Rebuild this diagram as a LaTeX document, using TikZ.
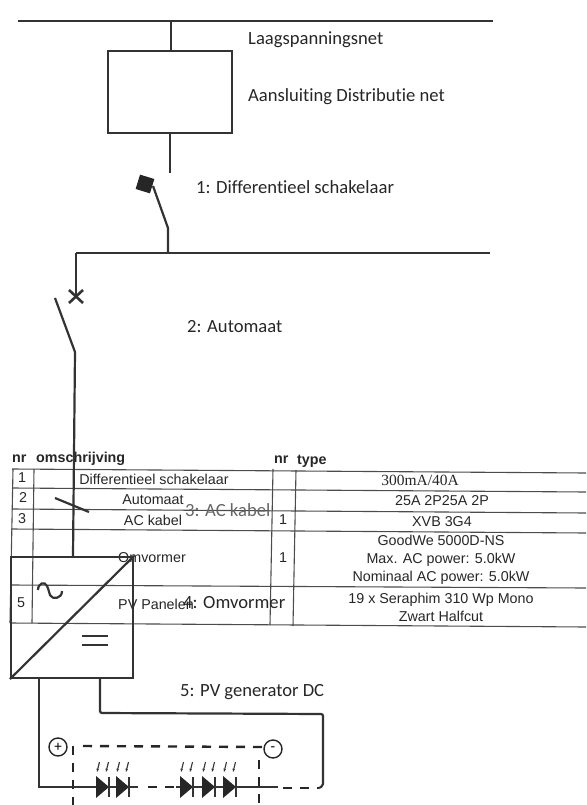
\documentclass[tikz,border=0pt]{standalone}
\usepackage{fontspec}
\usetikzlibrary{shapes.geometric,arrows.meta}
\setmainfont[Ligatures=NoCommon]{Carlito}
\newfontfamily\tabfont{Liberation Sans}
\newfontfamily\serfont{Liberation Serif}
\tikzset{
  wire/.style={draw=black!80,line width=2.2pt,line join=miter},
  grid line/.style={draw=black!70,line width=1.1pt},
  dash wire/.style={draw=black!85,line width=2.4pt,dash pattern=on 9pt off 8pt},
  lbl/.style={font=\fontsize{18.6}{22}\selectfont,text=black!85,anchor=west,inner sep=0pt},
  cell/.style={font=\tabfont\fontsize{14.3}{18.2}\selectfont,text=black!85,align=center,inner sep=0pt},
  head/.style={font=\tabfont\bfseries\fontsize{14.3}{18}\selectfont,text=black!85,anchor=west,inner sep=0pt},
}
\begin{document}
\begin{tikzpicture}[x=1pt,y=-1pt]
\useasboundingbox (0,0) rectangle (586,805);
% table grid
\draw[grid line] (12,469)--(586,473);
\draw[grid line] (12,488)--(586,492);
\draw[grid line] (12,509)--(586,513);
\draw[grid line] (11,529)--(586,533);
\draw[grid line] (11,585)--(586,588);
\draw[grid line] (10,623)--(586,627);
\draw[grid line] (13,469)--(10,623);
\draw[grid line] (34,469)--(32,623);
\draw[grid line] (273,469)--(270,625);
\draw[grid line] (296,470)--(293,626);
% table text
\node[head] (h1) at (12,459) {nr};
\node[head] (h2) at (36,459) {omschrijving};
\node[head] (h3) at (274,460) {nr};
\node[head] (h4) at (297,461) {type};
\node[cell] (a1) at (22,478) {1};
\node[cell] (a2) at (23,498) {2};
\node[cell] (a3) at (22,519) {3};
\node[cell] (a5) at (21,603) {5};
\node[cell] (b1) at (154,479) {Differentieel schakelaar};
\node[cell] (b2) at (153,500) {Automaat};
\node[cell] (b3) at (153,520) {AC kabel};
\node[cell] (b4) at (152,558) {Omvormer};
\node[cell] (b5) at (156,604) {PV Panelen};
\node[cell] (c3) at (283,520) {1};
\node[cell] (c4) at (283,558) {1};
\node[cell,font=\serfont\fontsize{15.5}{18}\selectfont] (d1) at (420,480) {300mA/40A};
\node[cell] (d2) at (442,501) {25A 2P25A 2P};
\node[cell] (d3) at (442,522) {XVB 3G4};
\node[cell] (d4) at (441,560) {GoodWe 5000D-NS\\Max. AC power: 5.0kW\\Nominaal AC power: 5.0kW};
\node[cell] (d5) at (441,607) {19 x Seraphim 310 Wp Mono\\Zwart Halfcut};
% labels
\node[lbl] (l0) at (248,40) {Laagspanningsnet};
\node[lbl] (l1) at (248,97) {Aansluiting Distributie net};
\node[lbl] (l2) at (196,187) {1: Differentieel schakelaar};
\node[lbl] (l3) at (187,327) {2: Automaat};
\node[lbl,text=black!60] (l4) at (185,510) {3: AC kabel};
\node[lbl] (l5) at (183,603) {4: Omvormer};
\node[lbl] (l6) at (180,692) {5: PV generator DC};
% upper network
\coordinate (t1) at (18,21); \coordinate (t2) at (493,21);
\coordinate (t3) at (171,21);
\node[draw=black!80,line width=2pt,minimum width=124pt,minimum height=82pt,inner sep=0pt] (conn) at (170,92) {};
\draw[wire] (t1)--(t2);
\draw[wire] (t3)--(t3 |- conn.north);
\coordinate (c1) at (170,173);
\draw[wire] (conn.south -| c1)--(c1);
\node[fill=black!85,minimum size=15pt,inner sep=0pt,rotate=-17] (sq) at (145,184) {};
\coordinate (k0) at (153,186);
\coordinate (k1) at (168,228);
\coordinate (bl) at (76,253); \coordinate (br) at (490,253); \coordinate (bj) at (168,253);
\draw[wire] (k0)--(k1)--(bj);
\draw[wire] (bl)--(br);
% breaker
\coordinate (x0) at (76,296);
\draw[wire] (bl)--(x0);
\draw[wire,line width=2.6pt] (69,290)--(83,303) (83,290)--(69,303);
\coordinate (s1) at (55,298); \coordinate (s2) at (75,352);
\coordinate (s3) at (73,556);
\draw[wire] (s1)--(s2)--(s3);
\draw[wire] (55,498)--(89,512);
% inverter
\node[draw=black!80,line width=2.2pt,minimum width=122pt,minimum height=121pt,inner sep=0pt] (inv) at (72,617.5) {};
\draw[wire] (inv.south west)--(inv.north east);
\draw[wire] (38,590) .. controls (38,583) and (45,581) .. (47,586) .. controls (49,590) and (49,593) .. (50,595) .. controls (52,600) and (62,599) .. (62,591);
\draw[wire,line width=2.6pt] (82,636)--(108,636) (82,645)--(108,645);
% DC wiring
\coordinate (dcp) at (39,787);
\coordinate (dcn) at (100,713);
\coordinate (dcne) at (323,714);
\coordinate (dcnb) at (323,786);
\draw[wire] (inv.south -| dcp)--(dcp)--(73,787);
\draw[wire,rounded corners=2pt] (inv.south -| dcn)--(dcn)--(dcne)--(dcnb)--(319,788);
% plus / minus
\node[circle,draw=black!85,line width=1.4pt,minimum size=18pt,inner sep=0pt,font=\fontsize{15}{15}\selectfont] (pl) at (58,747) {+};
\node[circle,draw=black!85,line width=1.4pt,minimum size=18pt,inner sep=0pt,font=\fontsize{15}{15}\selectfont] (mi) at (273,749) {-};
% dashed frame
\draw[dash wire] (73,746)--(73,805);
\draw[dash wire] (83,746)--(262,747);
\draw[dash wire] (259,760)--(259,805);
% string
\draw[wire] (73,787)--(138,787);
\draw[dash wire] (148,787)--(175,787);
\draw[wire] (176,787)--(278,787);
\draw[dash wire] (283,788)--(319,788);
\foreach \p in {103,123,187,209,230}{
  \fill[black!85] (\p-7,776)--(\p-7,798)--(\p+6,787)--cycle;
  \draw[wire] (\p+6,777)--(\p+6,797);
  \foreach \d in {-5,4}{
    \draw[black!80,line width=1.1pt,-{Stealth[length=3.5pt]}] (\p+\d+1.5,762)--(\p+\d-1,772);
  }
}
\end{tikzpicture}
\end{document}
